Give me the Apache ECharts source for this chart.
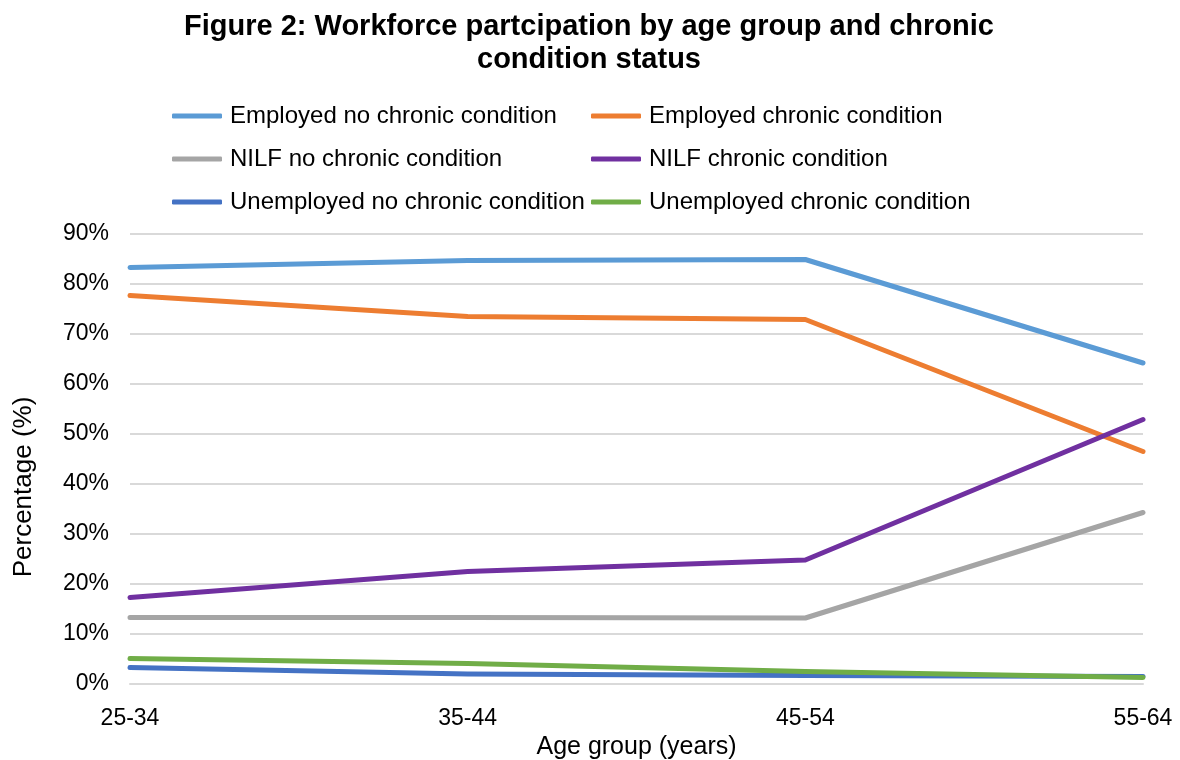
<!DOCTYPE html>
<html>
<head>
<meta charset="utf-8">
<script src="https://cdn.jsdelivr.net/npm/echarts@6/dist/echarts.min.js"></script>
<style>
  html, body { margin: 0; padding: 0; background: #fff; }
  #chart { width: 1180px; height: 760px; }
</style>
</head>
<body>
<div id="chart"></div>
<script>
// categories and values (percent)
const ageGroups = ['25-34', '35-44', '45-54', '55-64']
const employedNoChronic = [83.3, 84.7, 84.9, 64.2]
const employedChronic = [77.7, 73.5, 72.9, 46.5]
const nilfNoChronic = [13.3, 13.3, 13.2, 34.3]
const nilfChronic = [17.3, 22.5, 24.8, 52.9]
const unemployedNoChronic = [3.3, 2.0, 1.7, 1.5]
const unemployedChronic = [5.1, 4.1, 2.5, 1.3]

const FONT = '"Liberation Sans", Arial, sans-serif'

const chart = echarts.init(document.getElementById('chart'))

const mkLine = (name, data, color) => ({
  name,
  type: 'line',
  data,
  symbol: 'none',
  smooth: false,
  lineStyle: { color, width: 5, cap: 'round', join: 'round' },
  itemStyle: { color }
})

const legendBase = {
  orient: 'vertical',
  top: 99,
  itemWidth: 50,
  itemHeight: 5,
  itemGap: 19,
  icon: 'roundRect',
  textStyle: { fontFamily: FONT, fontSize: 24, color: '#000', padding: [0, 0, 0, 3] }
}

const option = {
  backgroundColor: '#fff',
  animation: false,
  title: {
    text: 'Figure 2: Workforce partcipation by age group and chronic\ncondition status',
    left: 584,
    top: 5,
    textAlign: 'center',
    textStyle: {
      fontFamily: FONT,
      fontSize: 29,
      fontWeight: 'bold',
      color: '#000',
      lineHeight: 33
    }
  },
  legend: [
    Object.assign({}, legendBase, {
      left: 167,
      data: ['Employed no chronic condition', 'NILF no chronic condition', 'Unemployed no chronic condition']
    }),
    Object.assign({}, legendBase, {
      left: 586,
      data: ['Employed chronic condition', 'NILF chronic condition', 'Unemployed chronic condition']
    })
  ],
  grid: {
    left: 130,
    right: 37,
    top: 234,
    bottom: 76,
    containLabel: false,
    outerBoundsMode: 'none'
  },
  xAxis: {
    type: 'category',
    data: ageGroups,
    boundaryGap: false,
    name: 'Age group (years)',
    nameLocation: 'middle',
    nameGap: 49,
    nameTextStyle: { fontFamily: FONT, fontSize: 25, color: '#000' },
    axisLine: { show: true, lineStyle: { color: '#d9d9d9', width: 2 } },
    axisTick: { show: false },
    axisLabel: { fontFamily: FONT, fontSize: 23, color: '#000', margin: 23 }
  },
  yAxis: {
    type: 'value',
    min: 0,
    max: 90,
    interval: 10,
    name: 'Percentage (%)',
    nameLocation: 'middle',
    nameGap: 93,
    nameTextStyle: { fontFamily: FONT, fontSize: 26, color: '#000', padding: [0, 56, 0, 0] },
    axisLine: { show: false },
    axisTick: { show: false },
    axisLabel: {
      fontFamily: FONT,
      fontSize: 23,
      color: '#000',
      margin: 21,
      formatter: '{value}%'
    },
    splitLine: { lineStyle: { color: '#d9d9d9', width: 2 } }
  },
  series: [
    mkLine('Employed no chronic condition', employedNoChronic, '#5b9bd5'),
    mkLine('Employed chronic condition', employedChronic, '#ed7d31'),
    mkLine('NILF no chronic condition', nilfNoChronic, '#a5a5a5'),
    mkLine('NILF chronic condition', nilfChronic, '#7030a0'),
    mkLine('Unemployed no chronic condition', unemployedNoChronic, '#4472c4'),
    mkLine('Unemployed chronic condition', unemployedChronic, '#70ad47')
  ]
}

chart.setOption(option)
window.addEventListener('resize', () => chart.resize())
</script>
</body>
</html>
